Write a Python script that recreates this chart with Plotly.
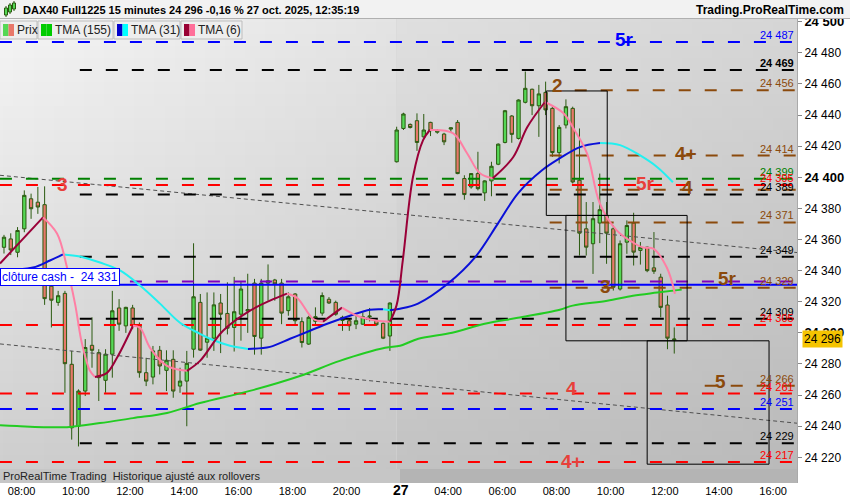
import numpy as np
import plotly.graph_objects as go

FONT = "Liberation Sans, Arial, sans-serif"

# ---------------- data ----------------
fri_times = [f"{h:02d}:{m:02d}" for h in range(7, 22) for m in (0, 15, 30, 45)][2:]   # 07:30 .. 21:45
mon_times = [f"{h:02d}:{m:02d}" for h in range(2, 13) for m in (0, 15, 30, 45)][1:-1]  # 02:15 .. 12:30

fri_open = [24355, 24360.4, 24351.8, 24366.9, 24386.2, 24384, 24382.4, 24330, 24319.6, 24325.4,
            24279.8, 24240, 24262.6, 24292, 24287.3, 24269.5, 24286.3, 24316, 24304.5, 24316,
            24305.2, 24274.4, 24271.6, 24288.8, 24275.9, 24283, 24265.8, 24269, 24289.5, 24319.6,
            24294, 24296.6, 24319.2, 24312.5, 24303.5, 24312, 24314, 24332, 24296.6, 24332,
            24334, 24332, 24314.3, 24325, 24307.2, 24292.8, 24307.4, 24312.7, 24321.6, 24319.6,
            24308, 24307.8, 24305.6, 24305.6, 24310.4, 24308.2, 24306.1, 24298]
fri_high = [24363, 24364, 24368, 24391.6, 24389.5, 24393.8, 24394.2, 24334, 24327, 24327,
            24288.4, 24263.7, 24296, 24310, 24289.5, 24289.5, 24327, 24321.7, 24316.8, 24318,
            24306.7, 24284, 24291.6, 24291.6, 24288.8, 24288.8, 24277.6, 24288.4, 24357.6, 24325,
            24326, 24326, 24325, 24332.5, 24336, 24333, 24338, 24334.7, 24334.7, 24344,
            24334.7, 24334.7, 24326, 24325.6, 24310, 24311, 24316.4, 24326, 24323, 24320.7,
            24311, 24309, 24311, 24313.2, 24316, 24309, 24306.7, 24319.6]
fri_low = [24351, 24350, 24348.6, 24364.7, 24373.3, 24376.5, 24318, 24303.5, 24317.4, 24261.5,
           24231.4, 24227, 24259.4, 24277.6, 24256.2, 24261.5, 24271.2, 24301.3, 24300, 24302.4,
           24271.2, 24265.8, 24266.9, 24273.3, 24262.6, 24258.3, 24261.5, 24240, 24284.1, 24288.4,
           24284, 24288.4, 24287, 24299, 24288, 24295, 24300, 24286, 24286, 24320.7,
           24320.7, 24305.6, 24311, 24304.6, 24290.6, 24292.3, 24305.6, 24311, 24318.6, 24311,
           24301.3, 24301.3, 24302.4, 24305.2, 24307.4, 24304.6, 24296, 24288.4]
fri_close = [24361.5, 24353.3, 24365.8, 24388.4, 24379.8, 24380.9, 24322, 24321, 24323.9, 24280.2,
             24239, 24262.6, 24290.6, 24288.8, 24271.2, 24286.3, 24314.2, 24305.6, 24316.4, 24304.5,
             24274.4, 24269, 24288.4, 24278.7, 24282.4, 24262.6, 24269, 24280.4, 24323.2, 24288.9,
             24296.6, 24318, 24312, 24303, 24313.6, 24328.2, 24315, 24297.7, 24332, 24333.5,
             24331.5, 24312.7, 24323.2, 24307.8, 24293.8, 24310, 24310.4, 24324, 24319.2, 24312,
             24310, 24304.6, 24307.8, 24310.4, 24310.8, 24305.2, 24296.6, 24319.2]

mon_open = [24410, 24431.4, 24434, 24436.4, 24426, 24435.3, 24429, 24427.8, 24431, 24435.3,
            24399.2, 24393.8, 24402.4, 24390, 24397.7, 24408.4, 24422.4, 24439.4, 24425, 24448.2,
            24456.6, 24446, 24454.6, 24444.3, 24415.9, 24433.6, 24444.3, 24398.1, 24366.9, 24357.3,
            24370.6, 24375.5, 24366.9, 24328.2, 24358.3, 24370.6, 24353, 24355.1, 24341.8, 24335.8,
            24317.9, 24295.5]
mon_high = [24432.5, 24441.5, 24434.6, 24441.1, 24440.7, 24435.7, 24431, 24428.6, 24432, 24436.8,
            24401.3, 24402.4, 24416.4, 24398.1, 24410, 24421.8, 24443.3, 24440, 24450.1, 24468,
            24457, 24459.4, 24461.5, 24445.4, 24433.6, 24450.1, 24445.4, 24431.4, 24384.1, 24384.1,
            24402.4, 24384.1, 24369.1, 24359.4, 24372.3, 24377.2, 24358.4, 24355.5, 24364.8, 24338,
            24323.9, 24303.5]
mon_low = [24409.5, 24430.4, 24431.4, 24417, 24425.6, 24426.5, 24428, 24420.7, 24429, 24402,
           24385.6, 24392.7, 24391.6, 24384.8, 24387.8, 24407.8, 24421.8, 24422.2, 24424.3, 24447.5,
           24440, 24426, 24440, 24413.1, 24408.9, 24431.4, 24396, 24349.7, 24349.7, 24337.9,
           24357.7, 24344.4, 24327.2, 24327.2, 24350.8, 24343.3, 24343.9, 24339, 24337.9, 24310,
           24289.5, 24286.7]
mon_close = [24430.4, 24440.7, 24432, 24422.4, 24430.4, 24430, 24430, 24422.8, 24431.8, 24402.4,
             24388.9, 24402.4, 24392.7, 24397.7, 24407.1, 24421.3, 24442.8, 24427.6, 24449.7, 24457.2,
             24446, 24453.6, 24443.3, 24415.9, 24432.1, 24445.4, 24397, 24364.1, 24355.1, 24373.4,
             24379.2, 24364.1, 24329.3, 24357.3, 24369, 24351.9, 24355, 24340, 24339.6, 24316.4,
             24296.6, 24296]

# moving averages: (candle position, value)
tma155_pos = [-0.59, 1.92, 9.31, 14.18, 19.05, 24.08, 28.95, 36.3, 43.7, 49.6, 56.3, 58.5,
              61.2, 66.2, 71.0, 75.9, 82.1, 84.0, 89.1, 92.9, 96.5, 100.1]
tma155_val = [24240.7, 24240.1, 24239.4, 24242, 24245.2, 24248.5, 24254.9, 24262.7, 24272.3, 24282,
              24290.4, 24291.7, 24296.2, 24300.1, 24305.9, 24309.7, 24314.9, 24317.5, 24320.7, 24323.9,
              24325.9, 24327.8]
tma31_pos = [-0.59, 4.28, 6.79, 8.71, 11.23, 14.18, 17.13, 20.09, 23.04, 26.0, 28.95, 30.43,
             33.38, 36.04, 39.29, 42.25, 45.2, 48.15, 51.1, 54.06, 55.98, 57.0, 58.49, 61.15,
             65.58, 69.57, 72.97, 75.92, 79.47, 82.13, 85.08, 88.04, 91.0, 93.9, 96.5, 98.8]
tma31_val = [24340.1, 24342, 24346.5, 24350.4, 24349.1, 24345.2, 24340.1, 24330.4, 24318.8, 24306.5,
             24299.4, 24296.2, 24291.7, 24289.7, 24291, 24296.2, 24301.4, 24306.5, 24311, 24314.9,
             24315.2, 24314.6, 24315.5, 24318.8, 24331.7, 24348.5, 24370.4, 24389.7, 24404.5, 24412.3,
             24419.4, 24422, 24420.7, 24414.2, 24406.5, 24396.8]
tma6_pos = [-0.59, 5.76, 7.83, 9.31, 10.49, 11.52, 12.7, 13.44, 15.21, 16.69, 19.05, 20.09,
            21.57, 24.08, 27.03, 28.95, 32.35, 36.34, 39.29, 41.8, 43.28, 45.64, 47.12, 49.93,
            52.14, 55.1, 57.0, 58.0, 58.9, 60.4, 61.9, 62.9, 66.3, 68.4, 70.3, 72.2,
            75.2, 77.3, 79.9, 82.6, 84.0, 86.1, 88.0, 90.5, 92.9, 94.4, 95.9, 97.9, 99.1]
tma6_val = [24344.6, 24374.2, 24363.9, 24342, 24318.8, 24293, 24275.6, 24271.7, 24274.3, 24284,
            24304.6, 24303.3, 24290.4, 24278.8, 24275.6, 24282, 24301.4, 24314.3, 24320.7, 24325.2,
            24322.6, 24309.1, 24307.2, 24316.2, 24311, 24307.8, 24307.2, 24318, 24346.5, 24400,
            24423.9, 24430.4, 24428.4, 24415.5, 24402.6, 24399.4, 24412.9, 24432.3, 24448.4, 24441.3,
            24432.3, 24415.5, 24383.3, 24365.9, 24358.1, 24354.9, 24354.2, 24342, 24325.2]

# horizontal levels: value, colour key, start position (candle index)
level_vals = [24487, 24469, 24456, 24414, 24399, 24395, 24392, 24389, 24371, 24349,
              24333, 24329, 24309, 24305, 24266, 24261, 24251, 24229, 24217]
level_cols = ["blue", "black", "brown", "brown", "green", "red", "brown", "black", "brown", "black",
              "purple", "brown", "black", "red", "brown", "red", "blue", "black", "red"]
level_start = [-0.6, 11.2, 84.3, 80.6, -0.6, -0.6, 80.6, 11.2, 80.6, 11.2,
               -0.6, 80.6, 11.2, -0.6, 103.5, -0.6, -0.6, 11.2, -0.6]
level_labelled = [True, True, True, True, True, True, False, True, True, True,
                  False, True, True, True, True, True, True, True, True]
cash_close = 24331
last_price = 24296

# trend lines: (start pos, start value, end pos, end value)
trend_lines = [(-0.6, 24401.3, 117.2, 24351.6), (-0.6, 24292.9, 117.2, 24241.9)]
# rectangles: (pos0, pos1, low, high)
boxes = [(80.1, 89.1, 24375.5, 24455.5), (83.0, 100.9, 24294.9, 24375.5), (95.0, 113.0, 24215.6, 24294.9)]
# wave labels: text, colour key, pos, value
wave_text = ["3", "2", "4+", "5r", "4", "5r", "3", "5r", "4", "5", "4+"]
wave_col = ["lred", "brown", "brown", "lred", "brown", "blue", "brown", "brown", "lred", "brown", "lred"]
wave_pos = [8.57, 81.8, 100.7, 94.7, 100.9, 91.7, 88.8, 106.9, 83.75, 105.8, 83.9]
wave_val = [24395.5, 24458.7, 24415.5, 24396.2, 24393.6, 24488.4, 24329.7, 24334.9, 24264, 24268.5, 24217.5]

fri_ticks = [8, 10, 12, 14, 16, 18, 20]
mon_ticks = [4, 6, 8, 10, 12, 14, 16]

# ---------------- build ----------------
COL = {"blue": "#0000ff", "black": "#000000", "brown": "#8b4a0c", "green": "#008000",
       "red": "#ff0000", "purple": "#8000c0", "lred": "#e8403a"}

opens = fri_open + mon_open
highs = fri_high + mon_high
lows = fri_low + mon_low
closes = fri_close + mon_close
times = fri_times + mon_times
xidx = list(range(len(times)))
n_fri = len(fri_times)

X_LO, X_HI = -0.59, 117.13
Y_LO, Y_HI = 24203.5, 24502.4
W, H = 850, 500
ML, MR, MT, MB = 0, 53, 18, 17
PW, PH = W - ML - MR, H - MT - MB


def PX(px):
    return (px - ML) / PW


def PY(py):
    return (H - MB - py) / PH


fig = go.Figure()


def gradient(x0, x1, tl, tr, bl, br, n=40):
    xe = np.linspace(x0, x1, n + 1)
    ye = np.linspace(Y_LO - 5, Y_HI + 5, n + 1)
    u = (np.arange(n) + 0.5) / n
    U, V = np.meshgrid(u, u)
    z = bl * (1 - U) * (1 - V) + br * U * (1 - V) + tl * (1 - U) * V + tr * U * V
    return go.Heatmap(x=xe, y=ye, z=z, zmin=0, zmax=255,
                      colorscale=[[0, "#000000"], [1, "#ffffff"]], showscale=False,
                      hoverinfo="skip", zsmooth=False)


fig.add_trace(gradient(X_LO - 1, n_fri, 246, 228, 204, 196))
fig.add_trace(gradient(n_fri, X_HI + 1, 224, 214, 193, 184))

# trend lines
for (a0, v0, a1, v1) in trend_lines:
    fig.add_trace(go.Scatter(x=[a0, a1], y=[v0, v1], mode="lines",
                             line=dict(color="#505050", width=1, dash="4px,3px"), hoverinfo="skip"))

# levels
for v, c, s in zip(level_vals, level_cols, level_start):
    fig.add_trace(go.Scatter(x=[s, X_HI + 1], y=[v, v], mode="lines",
                             line=dict(color=COL[c], width=2, dash="12px,14px"), hoverinfo="skip"))
fig.add_trace(go.Scatter(x=[X_LO - 1, X_HI + 1], y=[cash_close, cash_close], mode="lines",
                         line=dict(color="#0000ff", width=2), hoverinfo="skip"))


def coloured(xs, ys, up, down):
    i0 = 0
    direction = None
    segs = []
    for i in range(1, len(xs)):
        d = ys[i] >= ys[i - 1]
        if direction is not None and d != direction:
            segs.append((direction, i0, i - 1))
            i0 = i - 1
        direction = d
    segs.append((direction, i0, len(xs) - 1))
    for d, a, b in segs:
        fig.add_trace(go.Scatter(x=xs[a:b + 1], y=ys[a:b + 1], mode="lines",
                                 line=dict(color=up if d else down, width=2, shape="spline"),
                                 hoverinfo="skip"))


fig.add_trace(go.Scatter(x=tma155_pos, y=tma155_val, mode="lines",
                         line=dict(color="#22cc22", width=2, shape="spline"), hoverinfo="skip"))
coloured(tma31_pos, tma31_val, "#0a10d8", "#22f0f0")

fig.add_trace(go.Candlestick(
    x=xidx, open=opens, high=highs, low=lows, close=closes, whiskerwidth=0,
    increasing=dict(line=dict(color="#2b5a10", width=1), fillcolor="#55d855"),
    decreasing=dict(line=dict(color="#2b5a10", width=1), fillcolor="#e8786a"),
    hoverinfo="skip"))

coloured(tma6_pos, tma6_val, "#9a0038", "#ff7fa4")

shapes = []
for (a0, a1, lo, hi) in boxes:
    shapes.append(dict(type="rect", xref="x", yref="y", x0=a0, x1=a1, y0=lo, y1=hi,
                       line=dict(color="#000000", width=1)))

annotations = []
for t, c, p, v in zip(wave_text, wave_col, wave_pos, wave_val):
    annotations.append(dict(x=p, y=v, xref="x", yref="y", text=f"<b>{t}</b>", showarrow=False,
                            font=dict(family=FONT, size=19, color=COL[c])))

for v, c, lab in zip(level_vals, level_cols, level_labelled):
    if not lab:
        continue
    txt = f"{v // 1000} {v % 1000:03d}"
    if v == 24469:
        txt = f"<b>{txt}</b>"
    annotations.append(dict(x=PX(796), y=v, xref="paper", yref="y", text=txt, showarrow=False,
                            xanchor="right", yanchor="middle", yshift=7,
                            font=dict(family=FONT, size=11, color=COL[c])))

# cash close label
annotations.append(dict(x=0, y=cash_close, xref="paper", yref="y",
                        text=f"clôture cash -  {cash_close // 1000} {cash_close % 1000:03d}",
                        showarrow=False, xanchor="left", yanchor="bottom", yshift=-1,
                        bgcolor="#ffffff", bordercolor="#0000ff", borderwidth=1, borderpad=1,
                        font=dict(family=FONT, size=12, color="#0000ff")))
# last price box
annotations.append(dict(x=1, y=last_price, xref="paper", yref="y",
                        text=f"{last_price // 1000} {last_price % 1000:03d}", showarrow=False,
                        xanchor="left", yanchor="middle", xshift=5, bgcolor="#f5c400",
                        borderpad=1, font=dict(family=FONT, size=12, color="#000000")))

# title row
shapes.append(dict(type="rect", xref="paper", yref="paper", x0=PX(0), x1=PX(W), y0=PY(18), y1=PY(0),
                   fillcolor="#f2f2f2", line=dict(width=0), layer="above"))
shapes.append(dict(type="line", xref="paper", yref="paper", x0=PX(0), x1=PX(W), y0=PY(18.5), y1=PY(18.5),
                   line=dict(color="#b0b0b0", width=1)))
for (cx, top, bot, wt, wb) in [(6, 8, 15, 6, 17), (10, 5, 12, 3, 14), (14, 3, 9, 1, 11)]:
    shapes.append(dict(type="line", xref="paper", yref="paper", x0=PX(cx), x1=PX(cx), y0=PY(wb), y1=PY(wt),
                       line=dict(color="#2b5a10", width=1)))
    shapes.append(dict(type="rect", xref="paper", yref="paper", x0=PX(cx - 1.5), x1=PX(cx + 1.5),
                       y0=PY(bot), y1=PY(top), fillcolor="#55d855", line=dict(color="#2b5a10", width=1)))
annotations.append(dict(x=PX(21), y=PY(10), xref="paper", yref="paper", showarrow=False,
                        xanchor="left", yanchor="middle",
                        text="<b>DAX40 Full1225 15 minutes 24 296 -0,16 % 27 oct. 2025, 12:35:19</b>",
                        font=dict(family=FONT, size=11, color="#000000")))
annotations.append(dict(x=PX(846), y=PY(10), xref="paper", yref="paper", showarrow=False,
                        xanchor="right", yanchor="middle", text="<b>Trading.ProRealTime.com</b>",
                        font=dict(family=FONT, size=12, color="#000000")))

# legend row
cells = [(0, 37, "Prix", ("#55d855", "#e8786a")), (38, 113, "TMA (155)", ("#00cc00", "#00cc00")),
         (114, 180, "TMA (31)", ("#0000cc", "#00ffff")), (181, 242, "TMA (6)", ("#990033", "#ff6f9a"))]
for (a, b, label, (c1, c2)) in cells:
    shapes.append(dict(type="rect", xref="paper", yref="paper", x0=PX(a), x1=PX(b), y0=PY(39), y1=PY(21),
                       fillcolor="#eeeeee", line=dict(color="#bdbdbd", width=1), layer="above"))
    shapes.append(dict(type="rect", xref="paper", yref="paper", x0=PX(a + 3), x1=PX(a + 8.5),
                       y0=PY(36), y1=PY(24), fillcolor=c1, line=dict(width=0)))
    shapes.append(dict(type="rect", xref="paper", yref="paper", x0=PX(a + 8.5), x1=PX(a + 14),
                       y0=PY(36), y1=PY(24), fillcolor=c2, line=dict(width=0)))
    annotations.append(dict(x=PX(a + 15), y=PY(30), xref="paper", yref="paper", showarrow=False,
                            xanchor="left", yanchor="middle", text=label,
                            font=dict(family=FONT, size=12, color="#222222")))

# bottom bar
shapes.append(dict(type="rect", xref="paper", yref="paper", x0=PX(0), x1=PX(400), y0=PY(483), y1=PY(469),
                   fillcolor="#c6c6c6", line=dict(width=0)))
shapes.append(dict(type="rect", xref="paper", yref="paper", x0=PX(400), x1=PX(797), y0=PY(483), y1=PY(469),
                   fillcolor="#b4b4b4", line=dict(width=0)))
annotations.append(dict(x=PX(1), y=PY(476), xref="paper", yref="paper", showarrow=False,
                        xanchor="left", yanchor="middle",
                        text="ProRealTime Trading  Historique ajusté aux rollovers",
                        font=dict(family=FONT, size=11, color="#222222")))

# axis ticks
tickvals = [(h - 7.5) * 4 + 0.6 for h in fri_ticks] + [n_fri + 0.6] + \
           [n_fri + (h - 2.25) * 4 + 0.6 for h in mon_ticks]
ticktext = [f"{h:02d}:00" for h in fri_ticks] + ["<b><span style='font-size:14px'>27</span></b>"] + \
           [f"{h:02d}:00" for h in mon_ticks]

yvals = list(range(24220, 24501, 20))
ytext = []
for v in yvals:
    s = f"{v // 1000} {v % 1000:03d}"
    ytext.append(f"<b><span style='font-size:13px'>{s}</span></b>" if v % 100 == 0 else s)

fig.update_layout(
    width=W, height=H, margin=dict(l=ML, r=MR, t=MT, b=MB),
    paper_bgcolor="#ffffff", plot_bgcolor="#d8d8d8", showlegend=False,
    shapes=shapes, annotations=annotations,
    xaxis=dict(range=[X_LO, X_HI], showgrid=False, zeroline=False, rangeslider=dict(visible=False),
               tickvals=tickvals, ticktext=ticktext, ticks="", showline=False,
               tickfont=dict(family=FONT, size=11, color="#000000")),
    yaxis=dict(range=[Y_LO, Y_HI], side="right", showgrid=False, zeroline=False,
               tickvals=yvals, ticktext=ytext, ticks="outside", ticklen=4, tickcolor="#888888",
               showline=True, linecolor="#aaaaaa", linewidth=1,
               tickfont=dict(family=FONT, size=12, color="#000000")),
    font=dict(family=FONT),
)

fig.write_html("out.html", config={"displayModeBar": False},
               post_script="document.body.style.margin='0';document.body.style.padding='0';")
